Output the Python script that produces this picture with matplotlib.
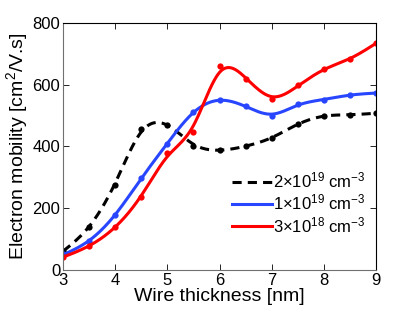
import numpy as np
import matplotlib
matplotlib.use("Agg")
import matplotlib.pyplot as plt

plt.rcParams['font.family'] = ['Liberation Sans', 'DejaVu Sans']
plt.rcParams['mathtext.fontset'] = 'custom'
plt.rcParams['mathtext.rm'] = 'Liberation Sans'
plt.rcParams['mathtext.it'] = 'Liberation Sans:italic'

thickness = [3, 3.5, 4, 4.5, 5, 5.5, 6, 6.5, 7, 7.5, 8, 8.5, 9]
mob_2e19 = [62, 139, 275, 457, 470, 402, 389, 402, 427, 473, 499, 502, 508]
mob_1e19 = [50, 94, 178, 298, 408, 512, 551, 531, 499, 538, 551, 567, 573]
mob_3e18 = [42, 78, 139, 237, 379, 447, 661, 619, 554, 599, 651, 683, 735]
labels = [r'2×10$^{19}$ cm$^{-3}$', r'1×10$^{19}$ cm$^{-3}$', r'3×10$^{18}$ cm$^{-3}$']
colors = ['black', '#2846ff', '#ff0000']
styles = [(0, (3, 2)), '-', '-']


def smooth(x, y, lam, n=601):
    x = np.asarray(x, float)
    y = np.asarray(y, float)
    xg = np.linspace(x.min(), x.max(), n)
    h = xg[1] - xg[0]
    idx = np.round((x - xg[0]) / h).astype(int)
    W = np.zeros(n)
    z = np.zeros(n)
    W[idx] = 1.0
    z[idx] = y
    D = np.diff(np.eye(n), 2, axis=0) / h**2
    A = np.diag(W) + lam * h * D.T @ D
    f = np.linalg.solve(A, W * z)
    return xg, f


fig = plt.figure(figsize=(4.15, 3.12), dpi=100)
ax = fig.add_axes([0.152, 0.135, 0.754, 0.791])

for y, c, ls, lab in zip([mob_2e19, mob_1e19, mob_3e18], colors, styles, labels):
    xs, fs = smooth(thickness, y, 3e-3)
    ax.plot(xs, fs, color=c, linestyle=ls, lw=2.2, label=lab)
    ax.plot(thickness, y, 'o', color=c, ms=4.5, mec='none')

ax.set_xlim(3, 9)
ax.set_ylim(0, 800)
ax.set_xticks(range(3, 10))
ax.set_yticks(range(0, 801, 200))
ax.tick_params(direction='in', top=True, right=True, labelsize=12, length=4, width=0.6, pad=2)
for s in ['left', 'bottom']:
    ax.spines[s].set_color('#707070')
for s in ax.spines.values():
    s.set_linewidth(0.8)
ax.set_xlabel('Wire thickness [nm]', fontsize=14, labelpad=0)
ax.set_ylabel(r'Electron mobility [cm$^2$/V.s]', fontsize=14, labelpad=2)

ax.legend(loc='lower right', bbox_to_anchor=(1.0, 0.10), frameon=False, fontsize=12,
          handlelength=2.4, handletextpad=0.1, labelspacing=0.15, borderaxespad=0.2)

fig.savefig('out.png', dpi=100)
